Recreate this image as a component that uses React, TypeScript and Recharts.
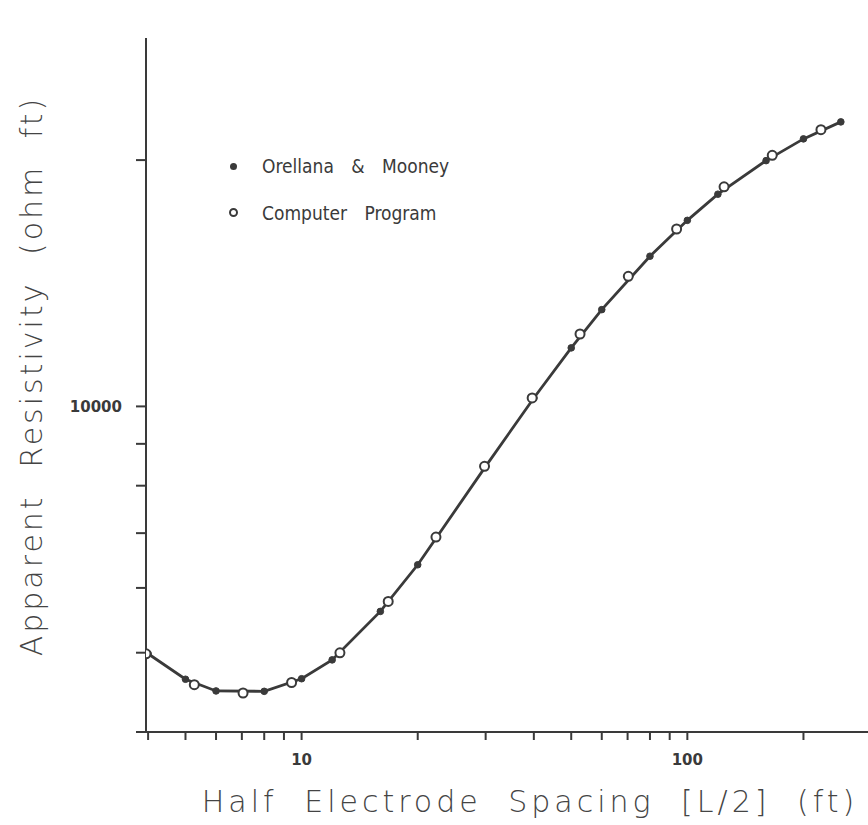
import React from "react";
import { ComposedChart, Line, Scatter, XAxis, YAxis, Label } from "recharts";

// Orellana & Mooney (filled dots)
const omSpacing = [4, 5, 6, 8, 10, 12, 16, 20, 30, 40, 50, 60, 80, 100, 120, 160, 200, 250];
const omRho = [4985, 4640, 4490, 4485, 4647, 4900, 5616, 6404, 8447, 10240, 11790, 13130, 15260, 16880, 18170, 19970, 21230, 22270];

// Computer Program (open circles)
const cpSpacing = [3.95, 5.27, 7.05, 9.42, 12.57, 16.77, 22.3, 29.8, 39.6, 52.7, 70.3, 93.8, 124.5, 166, 222];
const cpRho = [4985, 4570, 4464, 4598, 4999, 5776, 6922, 8447, 10240, 12260, 14420, 16475, 18550, 20270, 21790];

const xTicks = [4, 5, 6, 7, 8, 9, 10, 20, 30, 40, 50, 60, 70, 80, 90, 100, 200];
const yTicks = [4000, 5000, 6000, 7000, 8000, 9000, 10000, 20000];
const xLabelled = [10, 100];
const yLabelled = [10000];

const omData = omSpacing.map((x, i) => ({ x, y: omRho[i] }));
const cpData = cpSpacing.map((x, i) => ({ x, y: cpRho[i] }));

const INK = "#3a3a3a";

const OpenCircle = (props: any) => (
  <circle cx={props.cx} cy={props.cy} r={4.5} fill="#fff" stroke={INK} strokeWidth={2} />
);

const titleStyle = {
  fontFamily: "'DejaVu Sans', sans-serif",
  fontSize: 30,
  fontWeight: 300,
  letterSpacing: 3,
  wordSpacing: 14,
  fill: "#444",
};

const legendText: React.CSSProperties = {
  position: "absolute",
  left: 262,
  fontFamily: "'DejaVu Sans Condensed', 'DejaVu Sans', sans-serif",
  fontSize: 19,
  wordSpacing: 12,
  color: INK,
  lineHeight: "20px",
  whiteSpace: "nowrap",
};

export default function App() {
  return (
    <div style={{ position: "absolute", left: 0, top: 0, width: 868, height: 825, background: "#fff" }}>
      <ComposedChart
        width={868}
        height={825}
        margin={{ top: 38, right: 0, bottom: 0, left: 0 }}
      >
        <XAxis
          dataKey="x"
          type="number"
          scale="log"
          domain={[3.95, 294]}
          allowDataOverflow
          ticks={xTicks}
          interval={0}
          tickSize={8}
          tickMargin={14}
          tickFormatter={(v: number) => (xLabelled.includes(v) ? String(v) : "")}
          tick={{ fontFamily: "'DejaVu Sans', sans-serif", fontSize: 15, fontWeight: "bold", fill: INK }}
          axisLine={{ stroke: INK, strokeWidth: 2 }}
          tickLine={{ stroke: INK, strokeWidth: 2 }}
          height={93}
        >
          <Label
            content={() => (
              <text x={530} y={812} textAnchor="middle" style={{ ...titleStyle, letterSpacing: 4, wordSpacing: 13 }}>
                Half Electrode Spacing [L/2] (ft)
              </text>
            )}
          />
        </XAxis>
        <YAxis
          dataKey="y"
          type="number"
          scale="log"
          domain={[4000, 28200]}
          allowDataOverflow
          ticks={yTicks}
          interval={0}
          tickSize={10}
          tickMargin={14}
          tickFormatter={(v: number) => (yLabelled.includes(v) ? String(v) : "")}
          tick={{ fontFamily: "'DejaVu Sans', sans-serif", fontSize: 15, fontWeight: "bold", fill: INK }}
          axisLine={{ stroke: INK, strokeWidth: 2 }}
          tickLine={{ stroke: INK, strokeWidth: 2 }}
          width={146}
        >
          <Label
            content={() => (
              <text
                x={42}
                y={376}
                textAnchor="middle"
                transform="rotate(-90, 42, 376)"
                style={titleStyle}
              >
                Apparent Resistivity (ohm ft)
              </text>
            )}
          />
        </YAxis>
        <Line
          data={omData}
          dataKey="y"
          type="linear"
          stroke={INK}
          strokeWidth={2.8}
          dot={{ r: 3.3, fill: INK, stroke: INK, strokeWidth: 1 }}
          activeDot={false}
          isAnimationActive={false}
        />
        <Scatter data={cpData} dataKey="y" shape={OpenCircle} isAnimationActive={false} />
      </ComposedChart>

      {/* legend */}
      <div style={{ position: "absolute", left: 230, top: 163, width: 7, height: 7, borderRadius: "50%", background: INK }} />
      <div style={{ ...legendText, top: 156 }}>Orellana &amp; Mooney</div>
      <div
        style={{
          position: "absolute",
          left: 229,
          top: 208,
          width: 5,
          height: 5,
          borderRadius: "50%",
          border: `2px solid ${INK}`,
          background: "#fff",
        }}
      />
      <div style={{ ...legendText, top: 203 }}>Computer Program</div>
    </div>
  );
}
